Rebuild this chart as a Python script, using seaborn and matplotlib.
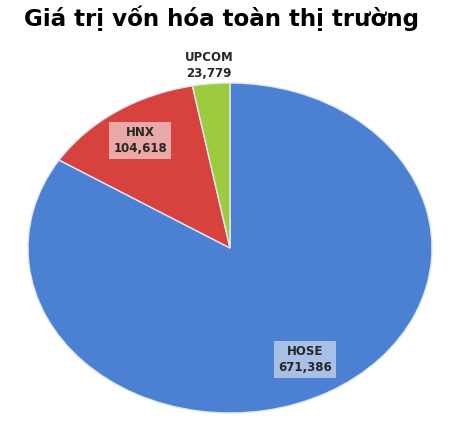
import numpy as np
import matplotlib
matplotlib.use("Agg")
import matplotlib.pyplot as plt
import seaborn as sns

# Market capitalisation by exchange
markets = ["HOSE", "HNX", "UPCOM"]
values = [671386, 104618, 23779]
colors = ["#4b80d3", "#d8423e", "#9ccb3e"]
label_dist = [0.77, 0.79, 1.11]
label_boxes = ["#a8c0e8", "#eaa9a7", None]

sns.set_theme(style="white")
plt.rcParams["font.family"] = ["DejaVu Sans"]

fig = plt.figure(figsize=(4.5, 4.23), dpi=100)
fig.patch.set_facecolor("white")

# stretched axes so the pie is drawn as an ellipse like the reference
ax = fig.add_axes([28 / 450, 10 / 423, 404 / 450, 330 / 423])
wedges, _ = ax.pie(values, colors=colors, startangle=90, counterclock=False,
                   wedgeprops={"edgecolor": "#dfe8f5", "linewidth": 1.0})
ax.set_aspect("auto")
ax.set_xlim(-1, 1)
ax.set_ylim(-1, 1)
ax.axis("off")

for w, name, val, d, box in zip(wedges, markets, values, label_dist, label_boxes):
    mid = np.deg2rad((w.theta1 + w.theta2) / 2)
    x, y = d * np.cos(mid), d * np.sin(mid)
    bbox = None
    if box is not None:
        bbox = dict(boxstyle="square,pad=0.35", facecolor=box, edgecolor="none")
    ax.text(x, y, f"{name}\n{val:,}", ha="center", va="center",
            fontsize=8.5, fontweight="bold", color="#262626",
            linespacing=1.3, bbox=bbox, clip_on=False)

fig.text(0.492, 0.957, "Giá trị vốn hóa toàn thị trường", ha="center", va="center",
         fontsize=16.6, fontweight="bold", color="black")

fig.savefig("out.png", dpi=100)
